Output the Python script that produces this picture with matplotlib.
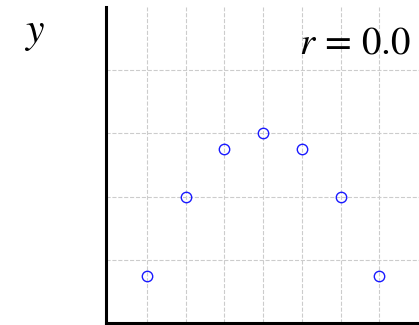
import numpy as np
import matplotlib
matplotlib.use("Agg")
import matplotlib.pyplot as plt

# data
x_vals = [1, 2, 3, 4, 5, 6, 7]
y_vals = [0.75, 2.0, 2.75, 3.0, 2.75, 2.0, 0.75]
r_label = r"$r\,=\,0.0$"
y_label = r"$y$"

plt.rcParams['mathtext.fontset'] = 'stix'
plt.rcParams['font.family'] = 'Liberation Serif'

W, H = 419, 325
fig = plt.figure(figsize=(W/100, H/100), dpi=100)
ax = fig.add_axes([106/W, 2/H, (420-106)/W, (323-7)/H])

ax.plot(x_vals, y_vals, 'o', mfc='none', mec='#1a1aff', ms=7.5, mew=1.0, clip_on=False)

ax.set_xlim(-0.06, 8.05)
ax.set_ylim(0, 5)
ax.set_xticks(np.arange(1, 8))
ax.set_yticks(np.arange(1, 5))
ax.tick_params(length=0, labelleft=False, labelbottom=False)
ax.grid(True, ls='--', color='#cccccc', lw=0.8)
ax.set_axisbelow(True)
for s in ['top', 'right']:
    ax.spines[s].set_visible(False)
for s in ['left', 'bottom']:
    ax.spines[s].set_linewidth(2.2)
    ax.spines[s].set_color('black')

fig.text(24/W, 1-42/H, y_label, fontsize=30, ha='left', va='baseline')
fig.text(299/W, 1-53/H, r_label, fontsize=28, ha='left', va='baseline')

fig.savefig('out.png', dpi=100)
